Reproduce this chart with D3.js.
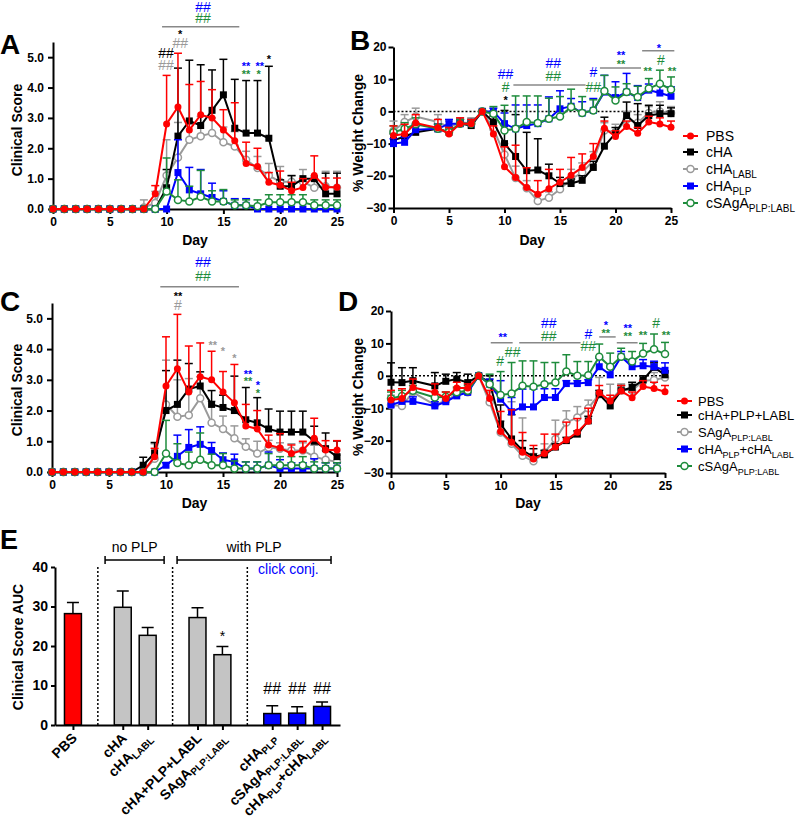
<!DOCTYPE html>
<html>
<head>
<meta charset="utf-8">
<script src="https://cdn.jsdelivr.net/npm/d3@7"></script>
<style>
  body { margin: 0; background: #fff; }
  svg { font-family: "Liberation Sans", Arial, Helvetica, sans-serif; }
</style>
</head>
<body>
<svg id="chart" width="800" height="822"></svg>
<script>
// ---- data ----
const daysAC = [0,1,2,3,4,5,6,7,8,9,10,11,12,13,14,15,16,17,18,19,20,21,22,23,24,25];
const daysBD = [0,1,2,4,5,6,7,8,9,10,11,12,13,14,15,16,17,18,19,20,21,22,23,24,25];

// clinical score, PBS control (shared by A and C); *Hi = top of error bar
const scorePBS    = [0,0,0,0,0,0,0,0,0,0.5,2.8,3.36,2.6,3.1,3.0,2.6,2.25,1.5,1.4,0.88,0.78,0.6,0.71,1.1,0.72,0.72];
const scorePBSHi  = [0,0,0,0,0,0,0,0,0,0.77,4.4,5.13,4.1,4.2,3.93,3.27,3.5,2.2,2.0,1.2,1.25,0.88,1.0,1.75,1.02,1.02];
// panel A
const scoreCHA    = [0,0,0,0,0,0,0,0,0,0,0.7,2.4,2.9,2.75,3.25,3.76,2.66,2.5,2.5,2.33,0.75,0.75,1.0,1.0,0.5,0.5];
const scoreCHAHi  = [0,0,0,0,0,0,0,0,0,0,1.3,4.64,4.9,4.75,4.58,4.93,4.27,4.23,4.23,4.7,0.96,1.1,0.96,1.0,1.18,1.18];
const scoreLABL   = [0,0,0,0,0,0,0,0,0.05,0.2,1.1,1.7,2.28,2.4,2.5,2.2,2.06,1.62,1.35,1.1,0.9,0.9,0.9,0.7,0.75,0.7];
const scoreLABLHi = [0,0,0,0,0,0,0,0,0.3,0.58,2.28,2.85,2.85,3.05,3.0,2.7,2.55,1.9,1.73,1.5,1.4,1.1,1.3,1.0,1.24,1.24];
const scorePLP    = [0,0,0,0,0,0,0,0,0,0,0,1.2,0.63,0.5,0.38,0.25,0.12,0.12,0,0,0,0,0,0,0,0];
const scorePLPHi  = [0,0,0,0,0,0,0,0,0,0,0,2.28,1.37,1.3,0.85,0.6,0.34,0.34,0,0,0,0,0,0,0,0];
const scoreCS     = [0,0,0,0,0,0,0,0,0,0,0.58,0.3,0.25,0.4,0.25,0.25,0.12,0.12,0.09,0.22,0.22,0.22,0.22,0.12,0.12,0.12];
const scoreCSHi   = [0,0,0,0,0,0,0,0,0,0,1.68,0.96,0.75,1.27,0.6,0.64,0.3,0.3,0.3,0.47,0.47,0.47,0.47,0.3,0.3,0.3];
// panel C
const scoreMix    = [0,0,0,0,0,0,0,0,0.22,0.62,2.0,2.2,2.7,2.8,2.2,2.1,2.0,1.7,1.6,1.4,1.3,1.3,1.3,1.0,0.76,0.5];
const scoreMixHi  = [0,0,0,0,0,0,0,0,0.48,0.96,3.3,3.64,3.53,3.26,2.65,2.5,3.12,2.75,2.42,2.05,1.98,1.98,1.98,1.49,1.27,1.01];
const scoreSAgA   = [0,0,0,0,0,0,0,0,0,0.43,2.2,1.8,1.85,2.4,1.6,1.4,1.1,0.82,0.6,0.8,0.76,0.7,0.7,0.5,0.4,0.33];
const scoreSAgAHi = [0,0,0,0,0,0,0,0,0,0.92,3.64,3.0,3.04,3.1,2.3,1.82,1.5,1.08,1.0,1.03,0.95,0.92,0.95,0.87,0.7,0.55];
const scorePair   = [0,0,0,0,0,0,0,0,0,0,0.22,0.51,0.8,0.9,0.7,0.4,0.33,0.11,0.11,0.22,0.11,0.11,0.11,0.11,0.11,0.11];
const scorePairHi = [0,0,0,0,0,0,0,0,0,0,0.3,1.2,1.38,1.47,0.96,0.62,0.58,0.33,0.33,0.65,0.4,0.3,0.3,0.43,0.3,0.3];
const scoreCS2    = [0,0,0,0,0,0,0,0,0,0,0.6,0.29,0.22,0.4,0.22,0.22,0.11,0.11,0.11,0.22,0.22,0.22,0.22,0.11,0.11,0.11];
const scoreCS2Hi  = [0,0,0,0,0,0,0,0,0,0,1.68,0.92,0.65,1.27,0.58,0.6,0.36,0.33,0.33,0.6,0.5,0.5,0.5,0.33,0.3,0.3];

// % weight change, PBS control (shared by B and D)
const wtPBS    = [-7.5,-7,-3.6,-5.1,-7,-3.8,-3.8,0,-7,-17.2,-20.5,-23.6,-25.7,-24,-22,-19.8,-17.4,-14,-5.2,-7.8,-4.7,-6.8,-3.3,-3.9,-4.9];
const wtPBSHi  = [-4.5,-4,-1,-2.5,-5,-2,-2.5,0,-4.5,-11,-10.5,-17.5,-21.5,-18,-18,-14.3,-13.2,-10,-3,-6,-3,-5,-1.5,-2,-3];
// panel B
const wtCHA    = [-9,-7.8,-6.5,-5.4,-6.5,-3.8,-4.4,0,-3.3,-10,-14,-18.4,-18.2,-20,-22.4,-22.4,-21.4,-17.4,-10.8,-6.8,-1.3,-4.4,-1.3,-0.7,-0.7];
const wtCHAHi  = [-7,-6,-4.5,-4,-5,-2.5,-3,0,-1.5,0.3,-1,-6.5,-8.5,-16.4,-20.5,-21,-20,-15.5,-1.8,-5,2.9,2.4,1.9,1.9,1.1];
const wtLABL   = [-6,-3.3,-1.6,-3.3,-4.9,-3.5,-3.6,0,-5.4,-13.4,-20.7,-23.9,-27.8,-26.8,-24.2,-21,-19,-15.3,-5.9,-6.5,-2.5,-3.5,-0.5,0,-0.5];
const wtLABLHi = [-3,-1,1,-1,-3,-2,-2,0,-3.5,-10,-17,-21.5,-26,-25,-22.5,-18,-16,-12.5,-3.5,-4,0,-1,1.5,3,1.5];
const wtPLP    = [-10,-9.6,-5.7,-5.4,-3.8,-3.8,-3.8,0,0,-3.8,-5.4,-4.4,-3.8,-2.3,0.8,1.6,-0.5,0.3,6,4.3,6,4.3,6.6,5.7,4.7];
const wtPLPHi  = [-8.5,-8,-4,-4,-2.5,-2.5,-2.5,0,1,-0.5,2,2,2,4.5,6.4,4,3,4,11.2,9.2,11.8,8,8.5,8.6,7.6];
const wtCS     = [-6.5,-5.4,-4,-5.4,-6.4,-3.8,-3.8,0,-0.7,-5.9,-5.4,-3.3,-3.6,-2.3,-1.6,1.4,-0.5,0.3,6.3,3.4,6,4.5,7.1,8.6,6.8];
const wtCSHi   = [-4.5,-3.5,-2,-4,-5,-2.5,-2.5,0,1.5,1.9,4.8,4.8,4.8,4.1,4.6,6.9,4.6,3.6,11.2,7.6,8.6,7.8,10.2,12.8,10.7];
// panel D
const wtMix    = [-2,-2.1,-1.5,-3.1,-1.7,-1.0,-2.1,0,-2,-14.9,-19.5,-23,-25,-24.4,-22,-20,-18,-13.9,-5.7,-9.3,-4.6,-3.6,-1.3,2.6,0.3];
const wtMixHi  = [4,2.5,2.5,1,0.5,1,0.5,0,0,-9,-12,-20,-22.5,-23,-21,-19,-17,-12.5,-4.5,-8,-3,-2,0,4,1.5];
const wtSAgA   = [-9,-9.3,-5.1,-9,-7.7,-5.7,-5.1,0,-8.2,-17.5,-21,-24.7,-26.4,-23.7,-19.5,-14.4,-12.9,-10,-5.7,-7.7,-4.1,-4.6,-1.5,-1.3,-0.5];
const wtSAgAHi = [-6,-7,-3,-7,-6,-4,-4,0,-5,-14,-8,-13,-24,-21,-13.7,-10.8,-9.5,-7.5,-0.5,-2.6,-2.5,-2.5,0,1,1];
const wtPair   = [-9,-7.9,-7.9,-9.3,-8,-6.2,-5.1,0,-2.6,-7.2,-11.1,-9.6,-9.6,-6.7,-6.7,-2.4,-2.4,-2.1,2.8,0.3,5.9,2.8,3.1,2.8,1.7];
const wtPairHi = [-7,-6.5,-6.5,-8,-6.5,-5,-4,0,-1,-1.5,-6.7,-4.1,-4.1,-4,-4,-1.5,-1.5,-1.2,5.5,3,7.5,5,5,4.5,4];
const wtCS2    = [-7,-6.2,-4.6,-6.7,-6.5,-5.1,-4.6,0,-2.6,-5.9,-5.5,-3.1,-3.4,-2.6,-2.1,1.3,0,0.2,5.9,2.8,5.9,4.4,6.9,8.2,6.7];
const wtCS2Hi  = [-5,-4.5,-3,-5,-5,-3.5,-3,0,0.5,1.3,4.1,4.6,4.6,4.1,4.1,6.5,4.4,4.4,9.8,7,8.5,7.5,10,12.9,10.3];

// significance marks: [day, value, text, colour key]; rules: [day0, day1, value]
const notesA = [[13.2,6.64,'##','plp'],[13.2,6.3,'##','cs'],[9.95,5.13,'##','cha'],[9.95,4.74,'##','labl'],
  [11.2,5.84,'*','cha'],[11.2,5.46,'##','labl'],[17.0,4.8,'**','plp'],[18.2,4.8,'**','plp'],
  [17.0,4.54,'**','cs'],[18.1,4.54,'*','cs'],[19.0,5.03,'*','cha']];
const rulesA = [[9.6,16.4,6.0]];
const notesB = [[10.1,11.6,'##','plp'],[10.1,7.6,'#','cs'],[10.1,4.2,'*','cha'],[14.4,15.0,'##','plp'],
  [14.4,11.0,'##','cs'],[18.0,12.2,'#','plp'],[18.0,7.6,'##','cs'],[20.5,18.1,'**','plp'],[20.5,15.6,'**','cs'],
  [23.9,20.3,'*','plp'],[24.1,16.0,'#','cs'],[22.9,13.2,'**','cs'],[25.1,13.2,'**','cs']];
const rulesB = [[10.8,17.3,8.2],[18.6,22.3,13.5],[22.4,25.3,18.8]];
const notesC = [[13.25,6.84,'##','plp'],[13.25,6.38,'##','cs'],[11.05,5.8,'**','cha'],[11.05,5.44,'#','labl'],
  [14.1,4.2,'**','labl'],[15.0,4.0,'*','labl'],[16.0,3.78,'*','labl'],[17.2,3.28,'**','plp'],[17.2,3.03,'**','cs'],
  [18.07,2.92,'*','plp'],[18.07,2.66,'*','cs']];
const rulesC = [[9.5,16.4,6.03]];
const notesD = [[10.2,12.7,'**','plp'],[9.95,4.6,'#','cs'],[11.1,7.4,'##','cs'],[14.4,16.4,'##','plp'],
  [14.4,12.3,'##','cs'],[18.0,13.0,'#','plp'],[18.0,9.3,'##','cs'],[19.6,16.4,'*','plp'],[19.6,13.9,'**','cs'],
  [21.6,15.4,'**','plp'],[21.6,13.0,'**','cs'],[23.0,13.3,'**','cs'],[24.2,16.4,'#','cs'],[25.1,13.3,'**','cs']];
const rulesD = [[9.1,11.1,10.2],[11.7,17.3,10.2],[19.0,20.5,12.0],[20.6,22.5,10.2]];

// panel E: clinical score AUC
const aucLabels = ['PBS','cHA','cHA{LABL}','cHA+PLP+LABL','SAgA{PLP:LABL}','cHA{PLP}','cSAgA{PLP:LABL}','cHA{PLP}+cHA{LABL}'];
const aucSlot   = [0,2,3,5,6,8,9,10];
const aucGroup  = ['pbs','plain','plain','plain','plain','click','click','click'];
const aucMean   = [28.2,29.8,22.7,27.2,17.8,2.9,3.0,4.7];
const aucHi     = [31.0,33.9,24.7,29.7,19.9,4.9,4.6,5.8];
const aucMarks  = [[4,23.3,'*'],[5,9.4,'##'],[6,9.4,'##'],[7,9.4,'##']];
const aucDividers = [1,4,7];
const aucBrackets = [[1.79,4.16,'no PLP'],[4.68,10.86,'with PLP']];

// ---- styles ----
const COLOR = { pbs: '#ff0000', cha: '#000000', labl: '#9a9a9a', plp: '#0000ff', cs: '#1e8c3c' };
const BAR = { pbs: '#ff0000', plain: '#c4c4c4', click: '#0000ff' };
const svg = d3.select('#chart');

// label strings use {..} for subscripts
function addRich(text, label, subSize, shift) {
  const parts = label.split(/(\{[^}]*\})/).filter(p => p.length);
  let down = false;
  parts.forEach(p => {
    const sub = p[0] === '{';
    const t = text.append('tspan').text(sub ? p.slice(1, -1) : p);
    if (sub) { t.attr('font-size', subSize); if (!down) t.attr('dy', shift); down = true; }
    else { if (down) t.attr('dy', -shift); down = false; }
  });
}

function drawMarkers(g, pts, shape, color) {
  if (shape === 'square') {
    g.selectAll(null).data(pts).join('rect')
      .attr('x', p => p[0] - 3.5).attr('y', p => p[1] - 3.5)
      .attr('width', 7).attr('height', 7).attr('fill', color);
  } else {
    g.selectAll(null).data(pts).join('circle')
      .attr('cx', p => p[0]).attr('cy', p => p[1]).attr('r', 3.5)
      .attr('fill', shape === 'open' ? '#fff' : color)
      .attr('stroke', color).attr('stroke-width', shape === 'open' ? 1.5 : 0);
  }
}

function styleAxis(a, size) {
  a.attr('font-family', null).attr('font-size', size).attr('font-weight', 'bold');
  a.selectAll('path, line').attr('stroke', '#000').attr('stroke-width', 2);
}

function drawLinePanel(p) {
  const g = svg.append('g');
  const x = d3.scaleLinear().domain([0, 25]).range(p.xRange);
  const y = d3.scaleLinear().domain(p.yDomain).range(p.yRange);

  const xa = g.append('g').attr('transform', `translate(0,${p.yRange[0]})`)
    .call(d3.axisBottom(x).tickValues([0, 5, 10, 15, 20, 25]).tickSize(5).tickSizeOuter(0).tickPadding(3));
  const ya = g.append('g').attr('transform', `translate(${p.xRange[0]},0)`)
    .call(d3.axisLeft(y).tickValues(p.yTicks).tickFormat(p.yFmt).tickSize(5).tickSizeOuter(0).tickPadding(p.yPad));
  styleAxis(xa, 12); styleAxis(ya, 12);

  g.append('text').attr('x', (p.xRange[0] + p.xRange[1]) / 2).attr('y', p.dayY)
    .attr('text-anchor', 'middle').attr('font-weight', 'bold').attr('font-size', 14).text('Day');
  g.append('text').attr('transform', `translate(${p.titleX},${p.titleY}) rotate(-90)`)
    .attr('text-anchor', 'middle').attr('dy', '0.35em').attr('font-weight', 'bold').attr('font-size', 14).text(p.yTitle);
  g.append('text').attr('x', p.tag[0]).attr('y', p.tag[1]).attr('font-weight', 'bold').attr('font-size', 28).text(p.tag[2]);

  if (p.zeroLine) {
    g.append('line').attr('x1', x(0)).attr('x2', x(25)).attr('y1', y(0)).attr('y2', y(0))
      .attr('stroke', '#000').attr('stroke-width', 1.5).attr('stroke-dasharray', '2,2');
  }

  p.drawOrder.forEach(k => {
    const s = p.series[k];
    const c = COLOR[s.key];
    const sg = g.append('g');
    const pts = p.days.map((d, i) => [x(d), y(s.mean[i]), y(s.hi[i])]);
    const eb = sg.append('g').attr('stroke', c).attr('stroke-width', 1.5);
    pts.filter(q => q[1] - q[2] > 1).forEach(q => {
      eb.append('line').attr('x1', q[0]).attr('x2', q[0]).attr('y1', q[1]).attr('y2', q[2]);
      eb.append('line').attr('x1', q[0] - 4).attr('x2', q[0] + 4).attr('y1', q[2]).attr('y2', q[2]);
    });
    sg.append('path').attr('d', d3.line()(pts.map(q => [q[0], q[1]])))
      .attr('fill', 'none').attr('stroke', c).attr('stroke-width', 2);
    drawMarkers(sg, pts, s.shape, c);
  });

  p.rules.forEach(r => {
    g.append('line').attr('x1', x(r[0])).attr('x2', x(r[1])).attr('y1', y(r[2])).attr('y2', y(r[2]))
      .attr('stroke', '#888').attr('stroke-width', 1.5);
  });
  p.notes.forEach(n => {
    const star = n[2].includes('*');
    g.append('text').attr('x', x(n[0])).attr('y', y(n[1]))
      .attr('dy', star ? '0.58em' : '0.36em').attr('text-anchor', 'middle')
      .attr('font-size', star ? 11 : 14).attr('font-weight', star ? 'bold' : 'normal')
      .attr('fill', COLOR[n[3]]).text(n[2]);
  });

  if (p.legend) {
    const L = p.legend;
    p.series.forEach((s, i) => {
      const c = COLOR[s.key];
      const yy = L.rows[i];
      g.append('line').attr('x1', L.line[0]).attr('x2', L.line[1]).attr('y1', yy).attr('y2', yy)
        .attr('stroke', c).attr('stroke-width', 2);
      drawMarkers(g.append('g'), [[(L.line[0] + L.line[1]) / 2, yy]], s.shape, c);
      const t = g.append('text').attr('x', L.textX).attr('y', yy).attr('dy', '0.36em').attr('font-size', L.size);
      addRich(t, s.name, L.size - 4, 4);
    });
  }
}

const scoreTicks = [0, 1, 2, 3, 4, 5];
const wtTicks = [-30, -20, -10, 0, 10, 20];

drawLinePanel({
  tag: [0, 54, 'A'], xRange: [53, 337], yDomain: [0, 5.5], yRange: [209, 42], yTicks: scoreTicks, yPad: 4,
  yFmt: d3.format('.1f'), yTitle: 'Clinical Score', titleX: 17, titleY: 130, dayY: 245, days: daysAC,
  series: [
    { name: 'PBS', key: 'pbs', shape: 'dot', mean: scorePBS, hi: scorePBSHi },
    { name: 'cHA', key: 'cha', shape: 'square', mean: scoreCHA, hi: scoreCHAHi },
    { name: 'cHA{LABL}', key: 'labl', shape: 'open', mean: scoreLABL, hi: scoreLABLHi },
    { name: 'cHA{PLP}', key: 'plp', shape: 'square', mean: scorePLP, hi: scorePLPHi },
    { name: 'cSAgA{PLP:LABL}', key: 'cs', shape: 'open', mean: scoreCS, hi: scoreCSHi }
  ],
  drawOrder: [2, 1, 3, 4, 0], notes: notesA, rules: rulesA
});

drawLinePanel({
  tag: [350, 50, 'B'], xRange: [393.5, 671], yDomain: [-30, 20], yRange: [208, 47], yTicks: wtTicks, yPad: 2,
  yFmt: d3.format('d'), yTitle: '% Weight Change', titleX: 358, titleY: 133, dayY: 245, days: daysBD, zeroLine: true,
  series: [
    { name: 'PBS', key: 'pbs', shape: 'dot', mean: wtPBS, hi: wtPBSHi },
    { name: 'cHA', key: 'cha', shape: 'square', mean: wtCHA, hi: wtCHAHi },
    { name: 'cHA{LABL}', key: 'labl', shape: 'open', mean: wtLABL, hi: wtLABLHi },
    { name: 'cHA{PLP}', key: 'plp', shape: 'square', mean: wtPLP, hi: wtPLPHi },
    { name: 'cSAgA{PLP:LABL}', key: 'cs', shape: 'open', mean: wtCS, hi: wtCSHi }
  ],
  drawOrder: [2, 1, 3, 4, 0], notes: notesB, rules: rulesB,
  legend: { line: [683, 698], textX: 706, size: 14, rows: [136, 152, 169, 186, 203] }
});

drawLinePanel({
  tag: [0, 311, 'C'], xRange: [52, 337], yDomain: [0, 5.5], yRange: [472, 303], yTicks: scoreTicks, yPad: 4,
  yFmt: d3.format('.1f'), yTitle: 'Clinical Score', titleX: 17, titleY: 390, dayY: 508, days: daysAC,
  series: [
    { name: 'PBS', key: 'pbs', shape: 'dot', mean: scorePBS, hi: scorePBSHi },
    { name: 'cHA+PLP+LABL', key: 'cha', shape: 'square', mean: scoreMix, hi: scoreMixHi },
    { name: 'SAgA{PLP:LABL}', key: 'labl', shape: 'open', mean: scoreSAgA, hi: scoreSAgAHi },
    { name: 'cHA{PLP}+cHA{LABL}', key: 'plp', shape: 'square', mean: scorePair, hi: scorePairHi },
    { name: 'cSAgA{PLP:LABL}', key: 'cs', shape: 'open', mean: scoreCS2, hi: scoreCS2Hi }
  ],
  drawOrder: [2, 1, 3, 4, 0], notes: notesC, rules: rulesC
});

drawLinePanel({
  tag: [338, 311, 'D'], xRange: [391, 665], yDomain: [-30, 20], yRange: [473, 311], yTicks: wtTicks, yPad: 2,
  yFmt: d3.format('d'), yTitle: '% Weight Change', titleX: 358, titleY: 397, dayY: 508, days: daysBD, zeroLine: true,
  series: [
    { name: 'PBS', key: 'pbs', shape: 'dot', mean: wtPBS, hi: wtPBSHi },
    { name: 'cHA+PLP+LABL', key: 'cha', shape: 'square', mean: wtMix, hi: wtMixHi },
    { name: 'SAgA{PLP:LABL}', key: 'labl', shape: 'open', mean: wtSAgA, hi: wtSAgAHi },
    { name: 'cHA{PLP}+cHA{LABL}', key: 'plp', shape: 'square', mean: wtPair, hi: wtPairHi },
    { name: 'cSAgA{PLP:LABL}', key: 'cs', shape: 'open', mean: wtCS2, hi: wtCS2Hi }
  ],
  drawOrder: [2, 1, 3, 4, 0], notes: notesD, rules: rulesD,
  legend: { line: [677, 692], textX: 698, size: 13, rows: [401, 415, 432, 449, 466] }
});

// ---- panel E ----
(function drawAuc() {
  const g = svg.append('g');
  const x = d3.scaleLinear().domain([-0.22, 11.22]).range([55, 340]);
  const y = d3.scaleLinear().domain([0, 40]).range([725, 567]);
  const bw = x(0.68) - x(0);

  g.append('text').attr('x', 0).attr('y', 549).attr('font-weight', 'bold').attr('font-size', 27).text('E');

  aucDividers.forEach(s => {
    g.append('line').attr('x1', x(s + 0.5)).attr('x2', x(s + 0.5)).attr('y1', y(40)).attr('y2', y(0))
      .attr('stroke', '#000').attr('stroke-width', 1.5).attr('stroke-dasharray', '2,2');
  });

  aucBrackets.forEach(b => {
    const bx0 = x(b[0]), bx1 = x(b[1]);
    g.append('path').attr('d', `M${bx0},556V564M${bx0},560H${bx1}M${bx1},556V564`)
      .attr('fill', 'none').attr('stroke', '#000').attr('stroke-width', 1.5);
    g.append('text').attr('x', (bx0 + bx1) / 2).attr('y', 552).attr('text-anchor', 'middle')
      .attr('font-size', 14).text(b[2]);
  });
  g.append('text').attr('x', x(7.93)).attr('y', 574).attr('fill', '#0000ff').attr('font-size', 14).text('click conj.');

  const bars = aucLabels.map((l, i) => ({ cx: x(aucSlot[i] + 0.5), m: aucMean[i], hi: aucHi[i], grp: aucGroup[i] }));
  g.selectAll('.err').data(bars).join('path').attr('class', 'err')
    .attr('d', b => `M${b.cx},${y(b.m)}V${y(b.hi)}M${b.cx - 6},${y(b.hi)}H${b.cx + 6}`)
    .attr('fill', 'none').attr('stroke', '#000').attr('stroke-width', 1.5);
  g.selectAll('.bar').data(bars).join('rect').attr('class', 'bar')
    .attr('x', b => b.cx - bw / 2).attr('y', b => y(b.m)).attr('width', bw).attr('height', b => y(0) - y(b.m))
    .attr('fill', b => BAR[b.grp]).attr('stroke', '#000').attr('stroke-width', 1.5);

  const xa = g.append('g').attr('transform', `translate(0,${y(0)})`)
    .call(d3.axisBottom(x).tickValues(aucSlot.map(s => s + 0.5)).tickFormat('').tickSize(5).tickSizeOuter(0));
  const ya = g.append('g').attr('transform', `translate(${x(-0.22)},0)`)
    .call(d3.axisLeft(y).tickValues([0, 10, 20, 30, 40]).tickSize(4).tickSizeOuter(0).tickPadding(3));
  styleAxis(xa, 13); styleAxis(ya, 14);

  aucLabels.forEach((l, i) => {
    const t = g.append('text').attr('transform', `translate(${x(aucSlot[i] + 0.5) + 5},${y(0) + 14}) rotate(-45)`)
      .attr('text-anchor', 'end').attr('font-weight', 'bold').attr('font-size', 14);
    addRich(t, l, 10, 3);
  });

  aucMarks.forEach(m => {
    const star = m[2] === '*';
    g.append('text').attr('x', x(aucSlot[m[0]] + 0.5)).attr('y', y(m[1]))
      .attr('dy', star ? '0.58em' : '0.36em').attr('text-anchor', 'middle')
      .attr('font-size', star ? 14 : 16).text(m[2]);
  });

  g.append('text').attr('transform', `translate(18,647) rotate(-90)`).attr('text-anchor', 'middle')
    .attr('dy', '0.35em').attr('font-weight', 'bold').attr('font-size', 14).text('Clinical Score AUC');
})();
</script>
</body>
</html>
